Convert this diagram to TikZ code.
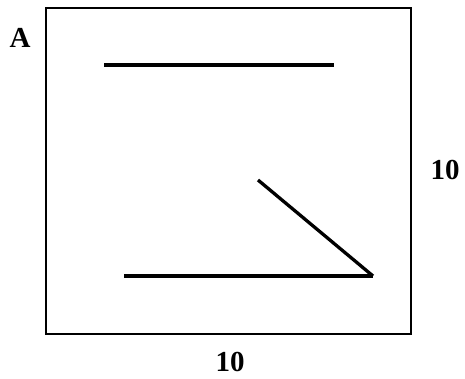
\documentclass[tikz,border=0pt]{standalone}
\usepackage{fontspec}
\setmainfont{Liberation Serif}
\usetikzlibrary{positioning}

\begin{document}
\begin{tikzpicture}[x=1pt,y=-1pt,thick,font=\fontsize{29}{33}\selectfont\bfseries]
  \useasboundingbox (0,0) rectangle (465,379);
  \node[draw,line width=1.5pt,minimum width=365pt,minimum height=326pt,inner sep=0pt] (box) at (228.5,171) {};
  \node (A) at (20,38) {A};
  \node (side) at (445,170) {10};
  \node (base) at (230,362) {10};
  \coordinate (t1) at (104,65);
  \coordinate (t2) at (334,65);
  \coordinate (b1) at (124,276);
  \coordinate (b2) at (373,276);
  \coordinate (d1) at (258,180);
  \draw[line width=3.3pt] (t1) -- (t2);
  \draw[line width=3.3pt] (b1) -- (b2);
  \draw[line width=3.3pt] (d1) -- (b2);
\end{tikzpicture}
\end{document}
